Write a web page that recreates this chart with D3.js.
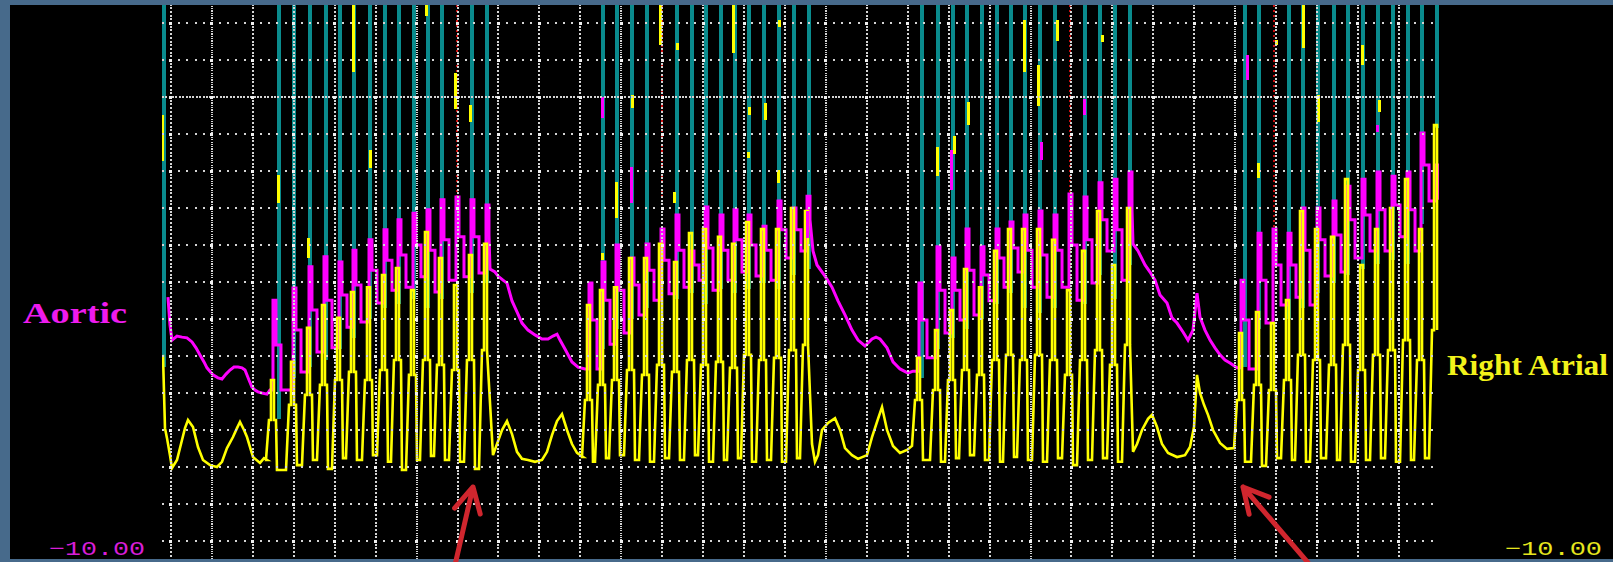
<!DOCTYPE html>
<html>
<head>
<meta charset="utf-8">
<script src="https://cdn.jsdelivr.net/npm/d3@7"></script>
<style>
  html, body { margin: 0; padding: 0; background: #476a8b; }
  svg { display: block; }
</style>
</head>
<body>
<svg id="chart" width="1613" height="562"></svg>
<script>
// ---------------------------------------------------------------
// Pressure recording: aortic and right atrial traces during four
// runs of rapid pacing separated by spontaneous pauses.
// Time in seconds, pressure in mmHg.
// ---------------------------------------------------------------

// Pauses between runs: [time, pressure]
const pause1RA = [[-0.0391,30.3],[-0.0293,10.5],[-0.0195,7.8],[-0.0049,3.2],[0.0049,-0.3],[0.0293,1.9],[0.0538,7.3],[0.0684,10.5],[0.0831,12.7],[0.1075,10.8],[0.1319,5.4],[0.1564,1.9],[0.1906,0.5],[0.2248,0.0],[0.2492,1.4],[0.2736,5.1],[0.3030,8.1],[0.3225,10.5],[0.3372,12.2],[0.3567,10.0],[0.3714,8.1],[0.4007,2.7],[0.4349,1.1],[0.4544,2.4],[0.4691,1.9]];
const pause1Ao = [[-0.0147,45.9],[-0.0049,38.4],[0.0049,34.3],[0.0293,35.4],[0.0538,35.1],[0.0782,34.9],[0.1026,33.8],[0.1222,32.2],[0.1417,30.3],[0.1613,28.4],[0.1759,26.8],[0.2052,24.9],[0.2297,24.1],[0.2492,23.8],[0.2688,25.1],[0.2883,26.2],[0.3078,27.0],[0.3274,27.0],[0.3469,26.8],[0.3616,26.2],[0.3811,23.5],[0.3958,21.6],[0.4105,20.8],[0.4251,20.3],[0.4447,20.0],[0.4691,19.7],[0.4838,20.8]];

const pause2RA = [[1.5734,3.2],[1.5930,6.2],[1.6174,10.0],[1.6418,12.4],[1.6663,8.9],[1.6907,4.1],[1.7151,2.2],[1.7444,1.9],[1.7787,1.4],[1.8129,1.9],[1.8373,4.1],[1.8617,8.6],[1.8862,12.4],[1.9106,14.3],[1.9350,10.0],[1.9594,6.2],[1.9839,3.8],[2.0132,2.7]];
const pause2Ao = [[1.5588,53.5],[1.5832,52.7],[1.5979,51.6],[1.6223,50.5],[1.6418,49.7],[1.6663,44.9],[1.6907,41.9],[1.7151,38.9],[1.7444,37.0],[1.7787,35.7],[1.8129,34.6],[1.8422,34.6],[1.8666,35.4],[1.8862,35.9],[1.9008,34.3],[1.9252,31.9],[1.9594,28.4],[1.9888,27.0],[2.0230,26.5]];

const pause3RA = [[3.1322,6.2],[3.1468,1.4],[3.1615,3.2],[3.1810,10.0],[3.2104,11.9],[3.2446,13.2],[3.2690,10.0],[3.2934,5.1],[3.3276,3.2],[3.3570,2.2],[3.4009,3.2],[3.4254,8.1],[3.4547,13.0],[3.4743,16.2],[3.4987,10.0],[3.5280,5.7],[3.5622,3.8],[3.5964,4.6],[3.6208,5.7]];
const pause3Ao = [[3.1371,58.4],[3.1566,54.6],[3.1957,51.6],[3.2299,48.6],[3.2592,44.9],[3.2934,41.1],[3.3276,37.0],[3.3570,34.3],[3.3912,32.7],[3.4254,34.6],[3.4449,35.1],[3.4645,34.6],[3.4987,32.2],[3.5280,28.4],[3.5622,26.5],[3.6013,25.4],[3.6257,25.9]];

const pause4RA = [[4.7007,4.1],[4.7203,6.2],[4.7447,10.0],[4.7740,13.0],[4.7936,14.1],[4.8180,10.8],[4.8424,6.2],[4.8718,3.8],[4.9157,2.7],[4.9548,3.2],[4.9792,5.4],[4.9988,10.8],[5.0134,24.9],[5.0281,20.0],[5.0476,16.8],[5.0672,14.1],[5.0916,10.0],[5.1258,6.5],[5.1600,4.9],[5.1894,5.1]];
const pause4Ao = [[4.7007,60.3],[4.7252,58.4],[4.7594,54.6],[4.7838,52.7],[4.8082,50.5],[4.8327,46.5],[4.8669,44.3],[4.8913,40.3],[4.9157,38.9],[4.9450,36.5],[4.9695,34.3],[4.9939,37.0],[5.0134,47.0],[5.0281,40.5],[5.0525,37.0],[5.0770,34.3],[5.1014,32.2],[5.1258,30.3],[5.1503,28.9],[5.1747,28.1],[5.2089,26.8]];

// Paced runs: one entry per beat
const run1Beats      = [0.4935,0.5913,0.6694,0.7427,0.8160,0.8844,0.9626,1.0359,1.1043,1.1776,1.2460,1.3144,1.3877,1.4610,1.5343];
const run1RAPeak     = [23.5,28.4,37.6,43.8,40.3,47.3,48.6,51.9,53.8,47.8,63.5,56.5,49.2,57.3,60.3];
const run1RAShoulder = [12.7,16.8,19.5,22.2,23.5,25.7,23.5,26.2,28.9,24.9,28.9,27.6,26.2,28.9,31.6];
const run1RATrough   = [-0.8,0.5,1.9,-0.5,2.4,1.9,3.2,1.4,-0.8,1.9,3.0,1.9,1.4,-0.5,1.9];
const run1AoHigh     = [45.1,48.4,54.1,56.8,55.4,58.6,61.4,64.1,66.8,68.6,69.5,72.2,73.0,72.2,70.8];
const run1AoMid      = [33.0,37.0,42.4,45.1,46.5,49.2,53.2,55.9,57.3,60.0,58.6,61.4,62.2,62.2,62.7];
const run1AoLow      = [20.8,25.7,31.1,32.2,37.8,39.2,44.3,47.8,48.6,51.4,47.3,50.5,51.4,52.4,54.6];

const run2Beats      = [2.0376,2.1012,2.1696,2.2429,2.3162,2.3895,2.4627,2.5360,2.6045,2.6777,2.7462,2.8146,2.8879,2.9612,3.0345,3.1029];
const run2RAPeak     = [43.8,47.8,48.6,56.5,56.5,60.3,55.4,63.2,64.3,62.2,60.3,66.2,64.3,64.3,70.0,69.2];
const run2RAShoulder = [18.1,22.2,23.5,26.2,24.9,27.6,25.7,28.9,27.6,28.4,26.8,30.3,28.9,29.5,31.6,33.0];
const run2RATrough   = [1.4,2.4,3.2,1.9,1.4,2.4,1.9,3.2,1.4,1.9,2.4,1.4,1.9,1.4,2.4,1.9];
const run2AoHigh     = [49.7,55.4,60.0,56.5,60.3,64.3,68.1,58.4,70.3,68.1,69.5,68.1,65.1,71.9,70.0,73.2];
const run2AoMid      = [39.7,45.1,47.8,49.2,53.2,55.9,58.6,54.6,59.2,58.6,61.4,60.0,58.6,64.1,64.1,66.8];
const run2AoLow      = [26.5,33.2,36.2,41.1,45.1,46.8,48.6,50.5,47.8,50.5,52.7,51.6,50.5,56.5,58.4,61.4];

const run3Beats      = [3.6501,3.7381,3.8114,3.8798,3.9531,4.0264,4.0948,4.1632,4.2365,4.3098,4.3831,4.4564,4.5297,4.6030,4.6763];
const run3RAPeak     = [29.5,37.0,42.4,53.5,48.6,58.4,64.3,64.3,64.3,61.4,47.8,58.4,69.2,54.6,70.0];
const run3RAShoulder = [18.1,20.8,23.5,26.2,24.9,28.9,30.3,28.9,30.3,28.9,24.9,28.9,31.6,27.6,33.0];
const run3RATrough   = [1.9,1.4,2.4,3.2,1.9,1.4,2.7,1.9,1.4,2.4,0.5,1.9,2.4,1.4,1.9];
const run3AoHigh     = [49.7,59.5,56.5,64.3,59.5,64.3,66.2,68.1,69.2,68.1,73.8,73.0,76.8,77.8,79.7];
const run3AoMid      = [39.7,47.8,47.8,53.2,51.9,56.5,59.2,58.6,57.3,58.6,60.0,61.4,66.8,64.1,69.5];
const run3AoLow      = [29.5,36.2,39.7,41.1,44.9,48.6,52.7,48.6,45.9,48.6,45.1,49.7,58.4,50.5,60.3];

const run4Beats      = [5.2236,5.3066,5.3799,5.4532,5.5216,5.5949,5.6731,5.7415,5.8148,5.8881,5.9614,6.0347,6.1031,6.1764];
const run4RAPeak     = [36.2,41.9,38.9,45.1,69.2,64.3,62.2,77.8,54.6,64.3,70.0,77.8,64.3,92.4];
const run4RAShoulder = [18.1,22.2,20.8,23.5,30.3,28.9,27.6,33.0,26.2,30.3,31.6,34.3,28.9,37.0];
const run4RATrough   = [1.4,0.3,2.4,1.9,1.4,2.4,1.9,1.4,1.9,2.4,1.4,1.9,2.4,4.1];
const run4AoHigh     = [50.5,63.2,64.3,63.2,70.0,70.0,71.9,75.9,77.8,79.7,78.6,79.7,90.3,81.6];
const run4AoMid      = [39.7,50.5,54.6,54.6,58.6,61.4,62.7,66.8,68.1,69.5,70.8,69.5,81.6,72.2];
const run4AoLow      = [26.5,38.9,43.8,45.9,43.8,51.6,52.7,56.5,58.4,58.4,62.2,58.4,71.9,61.4];

// Off-scale third channel: spike times and the pressure where each spike returns
const spikeTimes  = [-0.0342,
  0.5277,0.6010,0.6792,0.7574,0.8258,0.8942,0.9724,1.0457,1.1141,1.1874,1.2558,1.3242,1.4708,1.5441,
  2.1109,2.1793,2.2526,2.3259,2.4725,2.5458,2.6142,2.6875,2.7559,2.8243,2.8976,2.9709,3.0442,3.1175,
  3.6697,3.7479,3.8212,3.8896,3.9629,4.0362,4.1046,4.1730,4.2463,4.3196,4.4662,4.5395,4.6128,4.6861,
  5.2480,5.3164,5.4630,5.5314,5.6047,5.6829,5.7513,5.8246,5.8979,5.9712,6.0445,6.1129,6.1862];
const spikeBottom = [27.0,
  13.0,24.0,27.0,29.0,32.0,35.0,40.0,43.0,44.0,45.5,43.0,45.5,47.0,49.6,
  32.0,37.4,40.0,43.0,45.5,47.0,44.0,48.0,47.0,48.0,49.6,48.0,52.0,53.6,
  24.0,32.0,35.0,37.4,40.0,44.0,47.0,43.0,41.5,43.0,44.0,52.0,45.5,54.5,
  27.0,37.4,40.0,43.0,47.0,49.6,52.0,53.6,55.0,56.0,55.0,65.8,91.6];

// Marker beats drawn as dotted red strokes
const markerTimes  = [1.3975,2.3992,4.3929,5.3897];
const markerBottom = [72.2,72.2,45.9,58.6];

// Fragments of the pressure upstrokes that show above the band: [time, top, bottom]
const raFragments = [[-0.0391,95.1,82.7],[0.5277,78.9,71.4],[0.6743,61.9,56.5],[0.8942,124.9,106.8],[0.9773,85.7,80.8],[1.2509,124.9,121.9],[1.3926,106.5,96.8],[1.4659,97.8,93.2],[2.1109,57.8,55.9],[2.1793,77.0,67.3],[2.2575,100.5,97.0],[2.3943,124.9,114.1],[2.4774,114.6,112.7],[2.4627,74.3,71.4],[2.7510,124.9,111.9],[2.8292,97.3,95.1],[2.8195,85.1,83.5],[2.9074,98.4,93.8],[2.9758,120.8,118.9],[2.9709,80.3,76.8],[3.7430,86.5,78.6],[3.8261,89.5,84.6],[3.8945,98.6,92.4],[4.1681,120.8,106.8],[4.2365,108.6,97.6],[4.3294,120.8,115.1],[4.5492,116.8,114.9],[5.3116,82.2,78.1],[5.3995,115.4,114.1],[5.5314,124.9,113.2],[5.6047,100.5,93.2],[5.8197,114.1,108.6],[5.9028,99.2,95.9]];
const aoFragments = [[2.1109,100.0,94.3],[2.2526,81.1,71.4],[3.1126,69.2,61.9],[3.8114,85.7,74.9],[4.2560,87.8,83.0],[4.4613,99.5,95.1],[5.2578,111.4,104.6],[5.8930,92.4,90.5]];

// Grid: 0.2 s per column, 10 mmHg per row
const gridTimes = d3.range(0, 31).map(k => +(k * 0.2).toFixed(1));
const gridPressures = d3.range(-20, 121, 10);

// Annotation arrows: tip and tail as [time, pressure]
const arrowTips  = [[1.4757,-5.4],[5.2382,-5.4]];
const arrowTails = [[1.3877,-26.5],[5.5656,-26.5]];

// ---------------------------------------------------------------
const W = 1613, H = 562;
const svg = d3.select('#chart');

svg.append('rect').attr('width', W).attr('height', H).attr('fill', '#476a8b');
svg.append('rect').attr('x', 10).attr('y', 5).attr('width', W - 10).attr('height', 554).attr('fill', '#000');

const x = d3.scaleLinear().domain([-0.04, 6.19]).range([162.8, 1437.8]);
const y = d3.scaleLinear().domain([-25, 125]).range([559.5, 4.5]);

svg.append('defs').append('clipPath').attr('id', 'plot-area')
  .append('rect').attr('x', 162).attr('y', 5).attr('width', 1277).attr('height', 554);
const plot = svg.append('g').attr('clip-path', 'url(#plot-area)');

const runs = [
  {beats: run1Beats, raPeak: run1RAPeak, raShoulder: run1RAShoulder, raTrough: run1RATrough, aoHigh: run1AoHigh, aoMid: run1AoMid, aoLow: run1AoLow},
  {beats: run2Beats, raPeak: run2RAPeak, raShoulder: run2RAShoulder, raTrough: run2RATrough, aoHigh: run2AoHigh, aoMid: run2AoMid, aoLow: run2AoLow},
  {beats: run3Beats, raPeak: run3RAPeak, raShoulder: run3RAShoulder, raTrough: run3RATrough, aoHigh: run3AoHigh, aoMid: run3AoMid, aoLow: run3AoLow},
  {beats: run4Beats, raPeak: run4RAPeak, raShoulder: run4RAShoulder, raTrough: run4RATrough, aoHigh: run4AoHigh, aoMid: run4AoMid, aoLow: run4AoLow}
];
const raPauses = [pause1RA, pause2RA, pause3RA, pause4RA];
const aoPauses = [pause1Ao, pause2Ao, pause3Ao, pause4Ao];

// Pulse timing within a beat (s, relative to the beat time)
const RA_STEP = {rampStart: -0.0293, rampEnd: -0.0147, rise: -0.0049, fall: 0.0098, hold: 0.0195, drop: 0.0244};
const AO_STEP = {rise: 0.0049, mid: 0.0195, low: 0.044};

function raRun(r, pts) {
  let last = pts[pts.length - 1][1];
  const n = r.beats.length;
  r.beats.forEach((t, i) => {
    const sh = r.raShoulder[i], pk = r.raPeak[i];
    pts.push([t + RA_STEP.rampStart, last], [t + RA_STEP.rampEnd, sh],
             [t + RA_STEP.rise, sh], [t + RA_STEP.rise, pk],
             [t + RA_STEP.fall, pk], [t + RA_STEP.fall, sh]);
    if (i < n - 1) {
      pts.push([t + RA_STEP.hold, sh], [t + RA_STEP.drop, r.raTrough[i]]);
      last = r.raTrough[i];
    }
  });
}
function aoRun(r, pts) {
  let last = pts[pts.length - 1][1];
  const n = r.beats.length;
  r.beats.forEach((t, i) => {
    pts.push([t + AO_STEP.rise, last], [t + AO_STEP.rise, r.aoHigh[i]],
             [t + AO_STEP.mid, r.aoHigh[i]], [t + AO_STEP.mid, r.aoMid[i]]);
    if (i < n - 1) {
      pts.push([t + AO_STEP.low, r.aoMid[i]], [t + AO_STEP.low, r.aoLow[i]]);
      last = r.aoLow[i];
    }
  });
}
function assemble(pauses, runFn) {
  const pts = [];
  pauses.forEach((p, i) => {
    p.forEach(d => pts.push(d));
    runFn(runs[i], pts);
  });
  return pts;
}
const raTrace = assemble(raPauses, raRun);
const aoTrace = assemble(aoPauses, aoRun);

const line = d3.line().x(d => x(d[0])).y(d => y(d[1]));

const TEAL = '#0a8b8d', YELLOW = '#ffff00', MAGENTA = '#ff00ff';

// off-scale spikes
plot.append('g').selectAll('line').data(spikeTimes).join('line')
  .attr('x1', d => x(d)).attr('x2', d => x(d))
  .attr('y1', y(125)).attr('y2', (d, i) => y(spikeBottom[i]))
  .attr('stroke', TEAL).attr('stroke-width', 4).attr('shape-rendering', 'crispEdges');

// marker beats
plot.append('g').selectAll('line').data(markerTimes).join('line')
  .attr('x1', d => x(d)).attr('x2', d => x(d))
  .attr('y1', y(125)).attr('y2', (d, i) => y(markerBottom[i]))
  .attr('stroke', '#c81010').attr('stroke-width', 2).attr('stroke-dasharray', '2 3')
  .attr('shape-rendering', 'crispEdges');

// aortic pressure
plot.append('path').datum(aoTrace).attr('d', line)
  .attr('fill', 'none').attr('stroke', MAGENTA).attr('stroke-width', 3)
  .attr('stroke-linejoin', 'miter');

// right atrial pressure
plot.append('path').datum(raTrace).attr('d', line)
  .attr('fill', 'none').attr('stroke', YELLOW).attr('stroke-width', 2.6)
  .attr('stroke-linejoin', 'miter');

// upstroke fragments above the band
plot.append('g').selectAll('line').data(aoFragments).join('line')
  .attr('x1', d => x(d[0])).attr('x2', d => x(d[0]))
  .attr('y1', d => y(d[1])).attr('y2', d => y(d[2]))
  .attr('stroke', MAGENTA).attr('stroke-width', 3).attr('shape-rendering', 'crispEdges');
plot.append('g').selectAll('line').data(raFragments).join('line')
  .attr('x1', d => x(d[0])).attr('x2', d => x(d[0]))
  .attr('y1', d => y(d[1])).attr('y2', d => y(d[2]))
  .attr('stroke', YELLOW).attr('stroke-width', 3).attr('shape-rendering', 'crispEdges');

// dotted grid, drawn over the traces
const GRID = '#d4d4d4';
const vGrid = plot.append('g').attr('transform', 'translate(0,5)')
  .call(d3.axisBottom(x).tickValues(gridTimes).tickSize(554).tickFormat('').offset(0));
vGrid.select('.domain').remove();
vGrid.selectAll('.tick line')
  .attr('stroke', GRID).attr('stroke-width', 2)
  .attr('stroke-dasharray', (d, i) => i % 5 === 1 ? '1.2 1.1' : '2 1.7')
  .attr('stroke-dashoffset', 1.5).attr('shape-rendering', 'crispEdges');

const hGrid = plot.append('g').attr('transform', `translate(${x(0) - 1 - 40.93 / 5},0)`)
  .call(d3.axisRight(y).tickValues(gridPressures).tickSize(1273).tickFormat('').offset(0));
hGrid.select('.domain').remove();
hGrid.selectAll('.tick line')
  .attr('stroke', GRID).attr('stroke-width', 2)
  .attr('stroke-dasharray', d => d === 100 ? '2 1.4' : `2 ${40.93 / 5 - 2}`)
  .attr('shape-rendering', 'crispEdges');

// brighter dots at grid crossings
const crossings = [];
gridTimes.forEach(t => gridPressures.forEach(p => crossings.push([t, p])));
plot.append('g').selectAll('rect').data(crossings).join('rect')
  .attr('x', d => x(d[0]) - 1.5).attr('y', d => y(d[1]) - 1.5)
  .attr('width', 3).attr('height', 3).attr('fill', '#f0f0f0')
  .attr('shape-rendering', 'crispEdges');

// channel labels
svg.append('text').attr('x', 23).attr('y', 323)
  .attr('font-family', '"Liberation Serif", "DejaVu Serif", serif').attr('font-weight', 'bold')
  .attr('font-size', 30).attr('fill', '#ee1bee')
  .attr('textLength', 104).attr('lengthAdjust', 'spacingAndGlyphs').text('Aortic');
svg.append('text').attr('x', 1447).attr('y', 375)
  .attr('font-family', '"Liberation Serif", "DejaVu Serif", serif').attr('font-weight', 'bold')
  .attr('font-size', 30).attr('fill', '#f2f21a')
  .attr('textLength', 161).attr('lengthAdjust', 'spacingAndGlyphs').text('Right Atrial');

// scale minimum readouts
svg.append('text').attr('x', 49).attr('y', 555)
  .attr('font-family', '"Liberation Mono", "DejaVu Sans Mono", monospace')
  .attr('font-size', 20).attr('fill', '#d81ed8')
  .attr('textLength', 96).attr('lengthAdjust', 'spacingAndGlyphs').text('\u221210.00');
svg.append('text').attr('x', 1505).attr('y', 555)
  .attr('font-family', '"Liberation Mono", "DejaVu Sans Mono", monospace')
  .attr('font-size', 20).attr('fill', '#e6e61e')
  .attr('textLength', 97).attr('lengthAdjust', 'spacingAndGlyphs').text('\u221210.00');

// annotation arrows
const arrows = svg.append('g');
arrowTips.forEach((tip, i) => {
  const tail = arrowTails[i];
  const tx = x(tip[0]), ty = y(tip[1]), sx = x(tail[0]), sy = y(tail[1]);
  const back = Math.atan2(sy - ty, sx - tx);
  const len = 28, spread = 28 * Math.PI / 180;
  const b1 = [tx + len * Math.cos(back - spread), ty + len * Math.sin(back - spread)];
  const b2 = [tx + len * Math.cos(back + spread), ty + len * Math.sin(back + spread)];
  arrows.append('path')
    .attr('d', `M${sx},${sy}L${tx},${ty}M${b1[0]},${b1[1]}L${tx},${ty}L${b2[0]},${b2[1]}`)
    .attr('fill', 'none').attr('stroke', '#d0262e').attr('stroke-width', 5)
    .attr('stroke-linecap', 'round').attr('stroke-linejoin', 'round');
});
</script>
</body>
</html>
